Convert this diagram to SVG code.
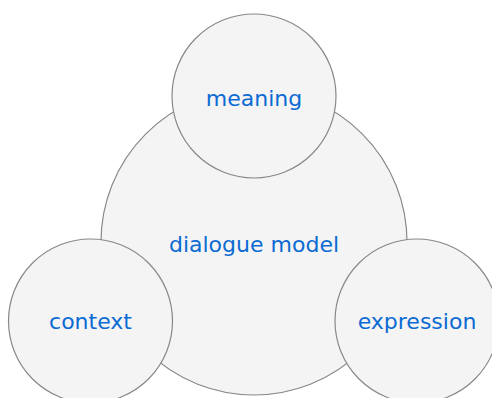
<svg xmlns="http://www.w3.org/2000/svg" width="492" height="398" viewBox="0 0 492 398">
<style>
.c{fill:#f4f4f4;stroke:#888;stroke-width:1.2}
.t{font-family:"DejaVu Sans",Verdana,sans-serif;font-size:22px;fill:#0b6bd3;text-anchor:middle}
</style>
<rect width="492" height="398" fill="#fff"/>
<g id="connectors"></g>
<g id="dialogue-model"><circle class="c" cx="254" cy="242" r="153"/><text class="t" x="254" y="251.5">dialogue model</text></g>
<g id="meaning"><circle class="c" cx="254" cy="96" r="82"/><text class="t" x="254" y="106">meaning</text></g>
<g id="context"><circle class="c" cx="90.5" cy="321" r="82"/><text class="t" x="90.5" y="329">context</text></g>
<g id="expression"><circle class="c" cx="417" cy="321" r="82"/><text class="t" x="417" y="329">expression</text></g>
</svg>
